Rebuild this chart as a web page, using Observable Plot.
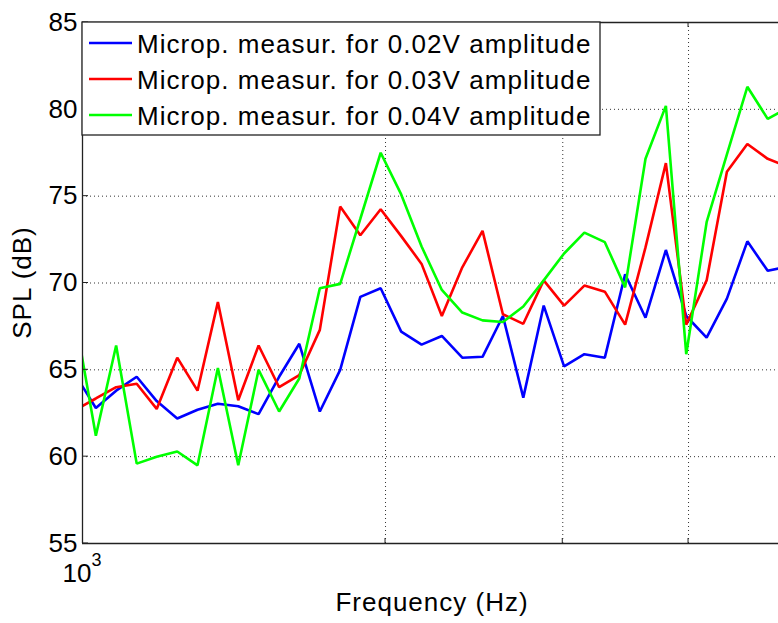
<!DOCTYPE html>
<html>
<head>
<meta charset="utf-8">
<script src="https://cdn.jsdelivr.net/npm/d3@7"></script>
<script src="https://cdn.jsdelivr.net/npm/@observablehq/plot@0.6"></script>
<style>
  html, body { margin: 0; padding: 0; background: #fff; }
  #chart svg { display: block; }
</style>
</head>
<body>
<div id="chart"></div>
<script>
// Measurement frequencies (Hz), log-spaced
const frequencies = [984, 1031, 1080, 1132, 1185, 1242, 1301, 1363, 1428, 1496, 1568, 1642,
  1721, 1803, 1888, 1978, 2073, 2172, 2275, 2384, 2497, 2616, 2741, 2872, 3009, 3152,
  3303, 3460, 3625, 3798, 3979, 4169, 4367, 4576, 4794, 5023];

// SPL (dB) measured by the microphone for each drive amplitude
const spl002 = [64.7, 62.8, 63.8, 64.6, 63.2, 62.2, 62.7, 63.05, 62.9, 62.45, 64.6, 66.5,
  62.6, 65.0, 69.2, 69.7, 67.2, 66.45, 66.95, 65.7, 65.75, 68.1, 63.4, 68.7, 65.2, 65.9,
  65.7, 70.5, 68.0, 71.9, 68.1, 66.85, 69.1, 72.4, 70.7, 70.95];
const spl003 = [62.7, 63.35, 64.0, 64.2, 62.75, 65.7, 63.8, 68.9, 63.25, 66.4, 64.0, 64.7,
  67.3, 74.4, 72.75, 74.25, 72.7, 71.1, 68.1, 70.9, 73.0, 68.2, 67.65, 70.15, 68.7, 69.85,
  69.5, 67.6, 72.05, 76.9, 67.6, 70.15, 76.4, 78.0, 77.15, 76.7];
const spl004 = [67.9, 61.2, 66.4, 59.6, 60.0, 60.3, 59.5, 65.1, 59.5, 65.0, 62.6, 64.5,
  69.7, 69.95, 73.7, 77.5, 75.1, 72.1, 69.6, 68.3, 67.85, 67.75, 68.65, 70.15, 71.7, 72.9,
  72.35, 69.75, 77.15, 80.2, 65.9, 73.5, 77.4, 81.3, 79.45, 80.1];

const seriesNames = [
  "Microp. measur. for 0.02V amplitude",
  "Microp. measur. for 0.03V amplitude",
  "Microp. measur. for 0.04V amplitude"
];
const seriesColors = ["#0000ff", "#ff0000", "#00ff00"];
const seriesValues = [spl002, spl003, spl004];

const yTicks = [55, 60, 65, 70, 75, 80, 85];
const yGrid = [60, 65, 70, 75, 80];
const xGrid = [2000, 3000, 4000];
const xLabelTick = 1000;

const rows = seriesValues.flatMap((vals, i) =>
  vals.map((v, j) => ({ f: frequencies[j], spl: v, series: seriesNames[i] })));

const FONT = "'Liberation Sans', Arial, Helvetica, sans-serif";
const axisColor = "#222";
const gridStyle = { stroke: "#333", strokeOpacity: 1, strokeWidth: 1, strokeDasharray: "1,3" };

const plot = Plot.plot({
  width: 778,
  height: 623,
  marginLeft: 82,
  marginRight: 0,
  marginTop: 22,
  marginBottom: 80,
  style: { fontFamily: FONT, fontSize: "26px", color: "#000", background: "#fff", overflow: "visible" },
  x: { type: "log", domain: [1000, 4914] },
  y: { domain: [55, 85] },
  color: { domain: seriesNames, range: seriesColors },
  marks: [
    Plot.gridY(yGrid, gridStyle),
    Plot.gridX(xGrid, gridStyle),
    Plot.line(rows, {
      x: "f", y: "spl", z: "series", stroke: "series",
      strokeWidth: 2.6, strokeLinejoin: "miter", clip: true
    }),
    Plot.ruleY([55, 85], { stroke: axisColor, strokeWidth: 1.3 }),
    Plot.ruleX([1000], { stroke: axisColor, strokeWidth: 1.3 }),
    Plot.axisY(yTicks, { tickSize: 0, tickPadding: 5, label: null, fontSize: 26, fill: "#000" }),
    Plot.axisX([xLabelTick], { tickSize: 0, tickFormat: () => "", label: null })
  ]
});

const svg = d3.select(plot);
const xs = plot.scale("x");
const ys = plot.scale("y");
const x0 = xs.apply(1000);
const yBottom = ys.apply(55);
const yTop = ys.apply(85);

// Inward tick marks on the left and bottom axes
const ticks = svg.append("g").attr("stroke", axisColor).attr("stroke-width", 1);
yTicks.forEach(v => {
  const y = ys.apply(v);
  ticks.append("line").attr("x1", x0).attr("x2", x0 + 6).attr("y1", y).attr("y2", y);
});
xGrid.forEach(v => {
  const x = xs.apply(v);
  ticks.append("line").attr("x1", x).attr("x2", x).attr("y1", yBottom).attr("y2", yBottom - 5);
  ticks.append("line").attr("x1", x).attr("x2", x).attr("y1", yTop).attr("y2", yTop + 5);
});

// Decade label 10^3 under the first tick
const dec = svg.append("text")
  .attr("x", xs.apply(xLabelTick)).attr("y", 582)
  .attr("text-anchor", "middle")
  .attr("font-family", FONT).attr("font-size", 26).attr("fill", "#000");
dec.append("tspan").text("10");
dec.append("tspan").attr("dy", -16).attr("font-size", 18).text("3");

// Axis titles
svg.append("text")
  .attr("x", 432).attr("y", 611)
  .attr("text-anchor", "middle")
  .attr("font-family", FONT).attr("font-size", 26).attr("letter-spacing", 1)
  .attr("fill", "#000")
  .text("Frequency (Hz)");
svg.append("text")
  .attr("transform", `translate(31,${(yTop + yBottom) / 2}) rotate(-90)`)
  .attr("text-anchor", "middle")
  .attr("font-family", FONT).attr("font-size", 26).attr("letter-spacing", 1)
  .attr("fill", "#000")
  .text("SPL (dB)");

// Legend box in the upper-left corner of the axes
const legend = svg.append("g").attr("text-anchor", "start");
legend.append("rect")
  .attr("x", x0).attr("y", yTop).attr("width", 518).attr("height", 113)
  .attr("fill", "#fff").attr("stroke", axisColor).attr("stroke-width", 1.3);
seriesNames.forEach((name, i) => {
  const cy = yTop + 21 + i * 36;
  legend.append("line")
    .attr("x1", x0 + 7).attr("x2", x0 + 50).attr("y1", cy).attr("y2", cy)
    .attr("stroke", seriesColors[i]).attr("stroke-width", 2.6);
  legend.append("text")
    .attr("x", x0 + 55).attr("y", cy + 10)
    .attr("text-anchor", "start")
    .attr("font-family", FONT).attr("font-size", 26).attr("letter-spacing", 1.05)
    .attr("fill", "#000")
    .text(name);
});

document.getElementById("chart").appendChild(plot);
</script>
</body>
</html>
